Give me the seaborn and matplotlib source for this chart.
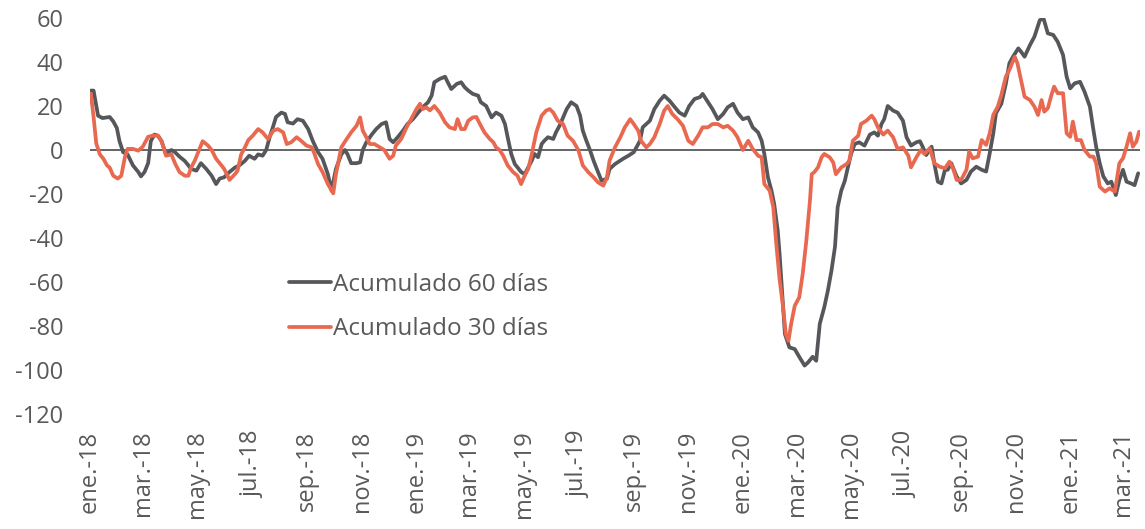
"""
Acumulado 60 y 30 días, ene-18 a mar-21.
"""

import matplotlib

matplotlib.use("Agg")
import matplotlib.pyplot as plt
import pandas as pd
import seaborn as sns

# valores
FECHAS_60 = [
    "2018-01-02", "2018-01-05", "2018-01-10", "2018-01-15", "2018-01-23", "2018-01-27", "2018-01-31",
    "2018-02-03", "2018-02-07", "2018-02-12", "2018-02-18", "2018-02-24", "2018-02-27",
    "2018-03-03", "2018-03-07", "2018-03-10", "2018-03-14", "2018-03-18", "2018-03-22", "2018-03-27",
    "2018-04-02", "2018-04-06", "2018-04-11", "2018-04-17", "2018-04-21", "2018-04-24", "2018-04-30",
    "2018-05-05", "2018-05-11", "2018-05-17", "2018-05-22", "2018-05-26", "2018-05-31",
    "2018-06-06", "2018-06-12", "2018-06-17", "2018-06-23", "2018-06-28",
    "2018-07-04", "2018-07-08", "2018-07-13", "2018-07-17", "2018-07-21", "2018-07-25", "2018-07-28",
    "2018-08-03", "2018-08-07", "2018-08-10", "2018-08-16", "2018-08-21", "2018-08-27",
    "2018-09-02", "2018-09-07", "2018-09-13", "2018-09-18", "2018-09-24", "2018-09-28",
    "2018-10-03", "2018-10-09", "2018-10-13", "2018-10-16", "2018-10-20", "2018-10-26", "2018-10-30",
    "2018-11-02", "2018-11-06", "2018-11-12", "2018-11-17", "2018-11-23", "2018-11-28",
    "2018-12-02", "2018-12-06", "2018-12-11", "2018-12-17", "2018-12-22", "2018-12-28",
    "2019-01-03", "2019-01-08", "2019-01-14", "2019-01-18", "2019-01-21", "2019-01-27",
    "2019-02-02", "2019-02-05", "2019-02-09", "2019-02-15", "2019-02-20", "2019-02-24", "2019-02-28",
    "2019-03-05", "2019-03-11", "2019-03-14", "2019-03-20", "2019-03-26", "2019-03-31",
    "2019-04-06", "2019-04-10", "2019-04-13", "2019-04-17", "2019-04-21", "2019-04-24", "2019-04-28",
    "2019-05-02", "2019-05-06", "2019-05-10", "2019-05-13", "2019-05-17", "2019-05-21", "2019-05-24", "2019-05-28",
    "2019-06-03", "2019-06-06", "2019-06-10", "2019-06-14", "2019-06-18", "2019-06-23", "2019-06-29",
    "2019-07-03", "2019-07-06", "2019-07-10", "2019-07-14", "2019-07-18", "2019-07-23", "2019-07-27",
    "2019-08-02", "2019-08-05", "2019-08-11", "2019-08-17", "2019-08-20", "2019-08-26",
    "2019-09-01", "2019-09-04", "2019-09-08", "2019-09-11", "2019-09-15", "2019-09-19", "2019-09-24", "2019-09-30",
    "2019-10-05", "2019-10-11", "2019-10-17", "2019-10-22", "2019-10-28",
    "2019-11-02", "2019-11-08", "2019-11-14", "2019-11-17", "2019-11-23", "2019-11-28",
    "2019-12-04", "2019-12-10", "2019-12-15", "2019-12-21", "2019-12-26",
    "2020-01-01", "2020-01-07", "2020-01-12", "2020-01-18", "2020-01-22", "2020-01-25", "2020-01-29",
    "2020-02-02", "2020-02-05", "2020-02-09", "2020-02-11", "2020-02-13", "2020-02-17", "2020-02-22", "2020-02-28",
    "2020-03-04", "2020-03-10", "2020-03-14", "2020-03-19", "2020-03-23", "2020-03-27",
    "2020-04-01", "2020-04-05", "2020-04-09", "2020-04-13", "2020-04-16", "2020-04-20", "2020-04-24", "2020-04-27",
    "2020-05-01", "2020-05-05", "2020-05-10", "2020-05-16", "2020-05-22", "2020-05-27", "2020-05-31",
    "2020-06-04", "2020-06-07", "2020-06-11", "2020-06-17", "2020-06-22", "2020-06-28",
    "2020-07-02", "2020-07-07", "2020-07-13", "2020-07-17", "2020-07-20", "2020-07-24", "2020-07-30",
    "2020-08-02", "2020-08-06", "2020-08-10", "2020-08-14", "2020-08-17", "2020-08-21", "2020-08-27",
    "2020-09-01", "2020-09-07", "2020-09-12", "2020-09-18", "2020-09-24", "2020-09-29",
    "2020-10-03", "2020-10-07", "2020-10-10", "2020-10-16", "2020-10-21", "2020-10-25", "2020-10-29",
    "2020-11-04", "2020-11-07", "2020-11-11", "2020-11-17", "2020-11-22", "2020-11-28",
    "2020-12-02", "2020-12-07", "2020-12-13", "2020-12-18", "2020-12-24", "2020-12-28",
    "2021-01-01", "2021-01-06", "2021-01-12", "2021-01-17", "2021-01-23", "2021-01-27", "2021-01-30",
    "2021-02-03", "2021-02-07", "2021-02-12", "2021-02-16", "2021-02-21", "2021-02-25",
    "2021-03-01", "2021-03-05", "2021-03-10", "2021-03-14", "2021-03-18",
]
VALORES_60 = [
    27, 27, 15.6, 14.5, 15, 13, 10,
    4, -1, -2, -7, -10, -12,
    -10, -6, 4, 7, 6.5, 4, -2,
    0, -1, -3, -5, -7, -8.6, -9.4,
    -6, -8.6, -11.7, -15.5, -13, -12.4,
    -10, -8, -7, -5, -2.6,
    -4, -2, -2.6, 0, 6, 11, 15,
    17, 16.4, 12.6, 12, 14, 13.3,
    9.5, 4.2, -1, -4, -11, -18.5,
    -8.6, -2, 0, -2, -6, -6, -5.6,
    0, 3.5, 7, 9.5, 11.8, 12.6,
    5, 3.5, 5.8, 8.8, 11.8, 14,
    17, 19.4, 21.7, 24.7, 30.8, 32.3,
    33.3, 30.8, 27.7, 30, 30.8, 28.5, 27,
    25.5, 24.7, 21.7, 20, 14.8, 17,
    15.6, 11.8, 5.8, -1.8, -6.4, -7.9, -10,
    -11, -7.9, -4.8, -1.8, -3.3, 2.7, 4.2, 5.8,
    5, 8, 11, 14.8, 18.6, 21.7, 20,
    15.6, 8.8, 4.2, 0, -4.8, -10, -14,
    -13, -8.6, -6.4, -4.8, -4, -2.6,
    -1, 1.2, 4.2, 10.3, 11.8, 13.3, 18.6, 22.4,
    24.7, 22.4, 19.4, 17, 15.6,
    20, 23.2, 24, 25.5, 21.7, 18.6,
    14, 16.4, 19.4, 21, 17,
    14, 14.8, 10.3, 8, 4.2, -1.8, -12.4,
    -18.5, -24.5, -36.7, -47, -59, -83.6, -89.7, -90.5,
    -94, -98, -96.5, -94, -95.8, -79,
    -71.5, -64, -55, -44, -26, -18.5, -14, -8.6,
    -1.8, 2.7, 3.5, 2, 7, 8, 6.5,
    11.8, 14, 20, 17.9, 17, 13.3,
    5.8, 2, 3.5, 4, 1.5, -2.3, 1.5,
    -6, -14.4, -15.2, -9, -9, -6, -12,
    -15.2, -13.6, -9.8, -7.6, -9, -9.8,
    -1.5, 7.6, 16.7, 21, 30, 39.4, 42.4,
    46.2, 44.7, 42.4, 47.7, 51.5, 59,
    60, 53, 52.3, 49.2, 43.2, 33.3,
    28, 30.3, 31, 26.5, 19.7, 9, 1.5,
    -6, -12, -15.2, -14.4, -20.5, -13.6,
    -9, -14.4, -15.2, -16, -10.6,
]

FECHAS_30 = [
    "2018-01-02", "2018-01-05", "2018-01-08", "2018-01-12", "2018-01-16", "2018-01-20", "2018-01-23", "2018-01-27",
    "2018-02-01", "2018-02-05", "2018-02-09", "2018-02-12", "2018-02-18", "2018-02-24",
    "2018-03-01", "2018-03-07", "2018-03-12", "2018-03-18", "2018-03-22", "2018-03-27",
    "2018-04-02", "2018-04-06", "2018-04-11", "2018-04-17", "2018-04-21", "2018-04-24", "2018-04-28",
    "2018-05-04", "2018-05-07", "2018-05-13", "2018-05-17", "2018-05-22", "2018-05-28", "2018-05-31",
    "2018-06-06", "2018-06-12", "2018-06-15", "2018-06-19", "2018-06-23", "2018-06-27",
    "2018-07-02", "2018-07-08", "2018-07-13", "2018-07-19", "2018-07-25", "2018-07-30",
    "2018-08-05", "2018-08-09", "2018-08-14", "2018-08-20", "2018-08-25", "2018-08-31",
    "2018-09-06", "2018-09-09", "2018-09-13", "2018-09-18", "2018-09-24", "2018-09-30",
    "2018-10-03", "2018-10-09", "2018-10-15", "2018-10-20", "2018-10-26", "2018-10-30",
    "2018-11-02", "2018-11-06", "2018-11-10", "2018-11-15", "2018-11-21", "2018-11-26",
    "2018-12-02", "2018-12-06", "2018-12-09", "2018-12-15", "2018-12-21", "2018-12-26",
    "2019-01-01", "2019-01-05", "2019-01-08", "2019-01-12", "2019-01-16", "2019-01-21", "2019-01-27",
    "2019-02-02", "2019-02-07", "2019-02-13", "2019-02-16", "2019-02-20", "2019-02-24", "2019-02-28",
    "2019-03-05", "2019-03-09", "2019-03-13", "2019-03-18", "2019-03-24", "2019-03-28", "2019-03-31",
    "2019-04-04", "2019-04-08", "2019-04-13", "2019-04-19", "2019-04-24", "2019-04-28",
    "2019-05-02", "2019-05-06", "2019-05-10", "2019-05-15", "2019-05-21", "2019-05-26", "2019-05-30",
    "2019-06-03", "2019-06-08", "2019-06-14", "2019-06-19", "2019-06-25",
    "2019-07-01", "2019-07-06", "2019-07-12", "2019-07-18", "2019-07-23", "2019-07-29",
    "2019-08-02", "2019-08-05", "2019-08-11", "2019-08-17", "2019-08-22", "2019-08-28",
    "2019-09-01", "2019-09-06", "2019-09-09", "2019-09-15", "2019-09-19", "2019-09-24", "2019-09-30",
    "2019-10-05", "2019-10-09", "2019-10-14", "2019-10-20", "2019-10-26",
    "2019-11-01", "2019-11-06", "2019-11-12", "2019-11-17", "2019-11-23", "2019-11-28",
    "2019-12-04", "2019-12-10", "2019-12-15", "2019-12-21", "2019-12-26",
    "2020-01-01", "2020-01-07", "2020-01-12", "2020-01-18", "2020-01-22", "2020-01-25", "2020-01-31",
    "2020-02-04", "2020-02-07", "2020-02-11", "2020-02-15", "2020-02-18", "2020-02-21", "2020-02-24", "2020-02-28",
    "2020-03-04", "2020-03-08", "2020-03-12", "2020-03-16", "2020-03-18", "2020-03-21", "2020-03-25", "2020-03-29",
    "2020-04-01", "2020-04-07", "2020-04-11", "2020-04-14", "2020-04-20", "2020-04-26", "2020-04-29",
    "2020-05-03", "2020-05-09", "2020-05-12", "2020-05-18", "2020-05-24", "2020-05-27", "2020-05-31",
    "2020-06-06", "2020-06-11", "2020-06-17", "2020-06-22", "2020-06-28",
    "2020-07-04", "2020-07-07", "2020-07-13", "2020-07-18", "2020-07-22", "2020-07-28",
    "2020-08-02", "2020-08-08", "2020-08-14", "2020-08-19", "2020-08-23", "2020-08-27",
    "2020-09-01", "2020-09-07", "2020-09-10", "2020-09-14", "2020-09-20", "2020-09-24", "2020-09-29",
    "2020-10-03", "2020-10-07", "2020-10-12", "2020-10-16", "2020-10-21", "2020-10-25", "2020-10-31",
    "2020-11-03", "2020-11-07", "2020-11-11", "2020-11-17", "2020-11-22", "2020-11-26", "2020-11-30",
    "2020-12-03", "2020-12-07", "2020-12-11", "2020-12-14", "2020-12-18", "2020-12-24", "2020-12-28",
    "2021-01-01", "2021-01-04", "2021-01-08", "2021-01-13", "2021-01-17", "2021-01-23", "2021-01-27", "2021-01-30",
    "2021-02-03", "2021-02-09", "2021-02-14", "2021-02-20", "2021-02-25",
    "2021-03-01", "2021-03-05", "2021-03-09", "2021-03-12", "2021-03-16", "2021-03-19",
]
VALORES_30 = [
    25.5, 15, 3, -2, -4, -7, -8, -11.7,
    -13, -11.7, -3.3, 0.5, 0.5, -0.3,
    1.5, 6, 6.5, 6.5, 4, -2.6,
    -2, -6, -10, -11.7, -11.7, -8, -5,
    1, 4, 2, 0, -4, -7, -8.6,
    -13.6, -11, -9.4, -2, 1, 4.5,
    6.5, 9.5, 8, 5, 8.8, 9.5,
    8, 2.7, 3.5, 5.8, 4.2, 2,
    1.2, -1.8, -6.4, -10, -15.5, -19.7,
    -11, 1.2, 5, 8, 11, 14.8,
    8.8, 5.8, 2.7, 2.7, 1.2, 0,
    -4, -2.6, 2, 5, 10.3, 14,
    18.6, 21, 18.6, 19.4, 18, 20, 17,
    12.6, 10.3, 9.5, 14, 9.5, 9.5, 13.3,
    14.8, 15, 11.8, 8, 5, 3.5, 1.2,
    0, -2.6, -7, -10, -11.7, -15.5,
    -11.7, -8.6, -1.8, 8, 15.6, 17.9, 18.6,
    17, 13.3, 11.8, 6.5, 4.2,
    0, -7, -10, -12.4, -14.7, -16.2,
    -12.4, -4.8, 1.2, 5.8, 10.3, 14,
    11.8, 8.8, 4.2, 1.2, 2.7, 5.8, 11.8,
    17.9, 20, 16.4, 14, 11,
    4.2, 2.7, 6.5, 10.3, 10.3, 11.8,
    11.8, 10.3, 11, 8.8, 5.8,
    0, 4.2, 0.5, -2.6, -3.3, -15.5, -18.5,
    -26, -41, -58.6, -71.5, -83.6, -86.7, -79, -70.8,
    -67, -56, -41, -23, -11, -10, -7.9, -3.3,
    -1.8, -3.3, -5.6, -11, -7.9, -6.4, -4.8,
    4.2, 6.5, 11.8, 13.3, 15.6, 14, 10.3,
    7, 8.8, 5.8, 0.5, 1.2,
    -2.6, -7.9, -3.3, 0, -1.8, 0.8,
    -6, -7.6, -8.3, -5.3, -8.3, -13.6,
    -13.6, -9, -0.8, -3.8, -3, 4.5, 2.3,
    7.6, 16, 19.7, 25, 33.3, 36.4, 42.4,
    39.4, 31.8, 24.2, 22.7, 19.7, 15.9, 22.7,
    17.4, 19, 25, 28.8, 25.8, 25.8, 7.6,
    6, 12.9, 4.5, 4.5, 0, -3, -3, -6,
    -16.7, -18.9, -17.4, -18.9, -6,
    -3.8, 1.5, 7.6, 1.5, 3.8, 8.3,
]

SERIES = ["Acumulado 60 días", "Acumulado 30 días"]
COLORES = ["#55575b", "#e8694f"]

TICK_FECHAS = pd.date_range("2018-01-01", "2021-03-01", freq="2MS")
TICK_LABELS = [
    "ene.-18", "mar.-18", "may.-18", "jul.-18", "sep.-18", "nov.-18",
    "ene.-19", "mar.-19", "may.-19", "jul.-19", "sep.-19", "nov.-19",
    "ene.-20", "mar.-20", "may.-20", "jul.-20", "sep.-20", "nov.-20",
    "ene.-21", "mar.-21",
]
Y_TICKS = [-120, -100, -80, -60, -40, -20, 0, 20, 40, 60]

GRIS_TEXTO = "#595959"


def build_frame() -> pd.DataFrame:
    assert len(FECHAS_60) == len(VALORES_60)
    assert len(FECHAS_30) == len(VALORES_30)
    df60 = pd.DataFrame({"fecha": pd.to_datetime(FECHAS_60), "valor": VALORES_60, "serie": SERIES[0]})
    df30 = pd.DataFrame({"fecha": pd.to_datetime(FECHAS_30), "valor": VALORES_30, "serie": SERIES[1]})
    return pd.concat([df60, df30], ignore_index=True)


def main() -> None:
    df = build_frame()

    sns.set_theme(style="white")
    plt.rcParams["font.family"] = ["Open Sans", "DejaVu Sans"]

    fig = plt.figure(figsize=(11.45, 5.29), dpi=100)
    ax = fig.add_axes([0.0786, 0.2174, 0.917, 0.7486])

    sns.lineplot(
        data=df, x="fecha", y="valor", hue="serie", hue_order=SERIES,
        palette=COLORES, linewidth=2.7, ax=ax, zorder=3,
    )
    ax.axhline(0, color="#3a3a3a", linewidth=1.1, zorder=2)

    ax.set_xlim(pd.Timestamp("2018-01-01"), pd.Timestamp("2021-03-20"))
    ax.set_ylim(-120, 60)
    ax.set_xticks(TICK_FECHAS)
    ax.set_xticklabels(TICK_LABELS, rotation=90)
    ax.set_yticks(Y_TICKS)
    ax.set_yticklabels([str(v) for v in Y_TICKS])
    ax.tick_params(axis="x", length=0, pad=12, labelsize=17, labelcolor=GRIS_TEXTO)
    ax.tick_params(axis="y", length=0, pad=19, labelsize=17, labelcolor=GRIS_TEXTO)
    ax.set_xlabel("")
    ax.set_ylabel("")
    sns.despine(ax=ax, left=True, bottom=True)

    handles, labels = ax.get_legend_handles_labels()
    leg = ax.legend(
        handles, labels, loc="center left", bbox_to_anchor=(0.19, 0.27),
        frameon=False, handlelength=1.7, handletextpad=0.1, labelspacing=0.85,
        fontsize=17.5, labelcolor=GRIS_TEXTO, borderpad=0, borderaxespad=0,
    )
    for h in leg.legend_handles:
        h.set_linewidth(2.7)

    fig.savefig("out.png", dpi=100)
    plt.close(fig)


if __name__ == "__main__":
    main()
